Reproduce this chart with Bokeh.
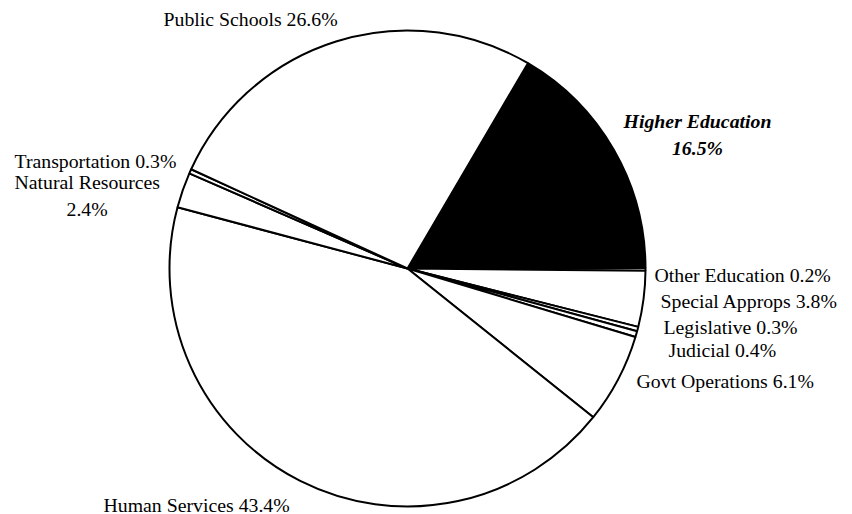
import math
from bokeh.plotting import figure
from bokeh.models import Range1d, ColumnDataSource
from bokeh.core.properties import value
from bokeh.embed import file_html
from bokeh.resources import INLINE

# ---- data ----
categories = ["Higher Education", "Other Education", "Special Approps", "Legislative",
              "Judicial", "Govt Operations", "Human Services", "Natural Resources",
              "Transportation", "Public Schools"]
percents = [16.5, 0.2, 3.8, 0.3, 0.4, 6.1, 43.4, 2.4, 0.3, 26.6]
fills = ["black", "white", "white", "white", "white", "white", "white", "white", "white", "white"]

label_texts = ["Public Schools 26.6%", "Transportation 0.3%", "Natural Resources", "2.4%",
               "Other Education 0.2%", "Special Approps 3.8%", "Legislative 0.3%",
               "Judicial 0.4%", "Govt Operations 6.1%", "Human Services 43.4%"]

# ---- layout ----
W, H = 852, 514
def px(x):
    return x
def py(y):
    return H - y

CX, CY, R = px(407), py(268), 238
START_DEG = 30.4  # clockwise from 12 o'clock

starts, ends = [], []
acc = START_DEG
for v in percents:
    s = acc
    e = acc + v * 3.6
    starts.append(math.radians(90 - s))
    ends.append(math.radians(90 - e))
    acc = e

src = ColumnDataSource(dict(cat=categories, start=starts, end=ends, fill=fills))

p = figure(width=W, height=H, output_backend="svg", toolbar_location=None,
           x_range=Range1d(0, W), y_range=Range1d(0, H), min_border=0)
p.axis.visible = False
p.grid.visible = False
p.outline_line_color = None

p.wedge(x=CX, y=CY, radius=R, start_angle="start", end_angle="end", direction="clock",
        fill_color="fill", line_color="black", line_width=2, source=src)

FS = "19.8px"
# label placement (page coordinates) : left x, middle y
label_pos = [(163, 18), (14, 160), (14, 181), (66, 208),
             (654, 274), (660, 300), (663, 326), (668, 349),
             (636, 380), (103, 504)]
lx = [px(a) for a, b in label_pos]
ly = [py(b) for a, b in label_pos]
p.text(x=lx, y=ly, text=label_texts, text_font=value("Liberation Serif"),
       text_font_size=FS, text_baseline="middle", text_align="left", text_color="black")

p.text(x=[px(697), px(697)], y=[py(120), py(147)], text=["Higher Education", "16.5%"],
       text_font=value("Liberation Serif"), text_font_size=FS, text_font_style="bold italic",
       text_baseline="middle", text_align="center", text_color="black")

open("out.html", "w").write(file_html(p, INLINE))
